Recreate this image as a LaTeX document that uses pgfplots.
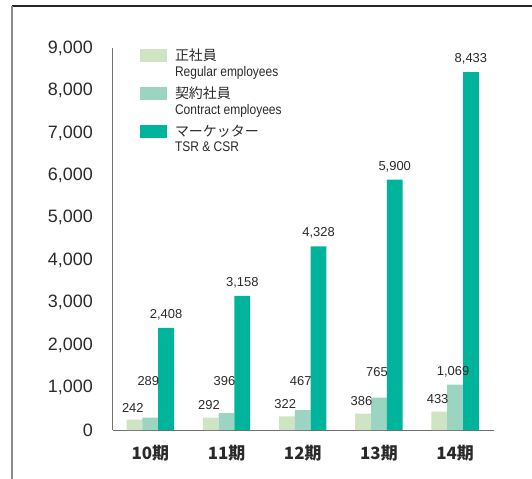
\documentclass[border=0pt]{standalone}
\usepackage{fontspec}
\setmainfont{Liberation Sans}
\newfontfamily\cjk{Noto Sans CJK JP}
\newfontfamily\cond[FakeStretch=0.86]{Liberation Sans}
\usepackage{pgfplots}
\pgfplotsset{compat=1.18}
\definecolor{cA}{HTML}{CEE5C4}
\definecolor{cB}{HTML}{9BD4C0}
\definecolor{cC}{HTML}{00B39B}
\definecolor{axg}{HTML}{707070}
\definecolor{txt}{HTML}{2A2A2A}
\newcommand{\lent}[2]{\rlap{\raisebox{-15.8bp}[0pt][0pt]{\cond #2}}{\cjk #1}}
\begin{document}
\begin{tikzpicture}
\useasboundingbox (-113bp,-49bp) rectangle (419bp,430bp);
\draw[line width=1.2bp, black!85] (-101bp,424bp) -- (419bp,424bp);
\draw[line width=2bp, black!45] (-101bp,424bp) -- (-101bp,-49bp);
\begin{axis}[
  at={(0,0)}, anchor=south west,
  scale only axis, width=381bp, height=382bp,
  xmin=-0.49, xmax=4.51, ymin=0, ymax=9000,
  axis lines=left, axis line style={-, draw=axg, line width=1bp},
  xtick={0,1,2,3,4},
  xticklabels={10期,11期,12期,13期,14期},
  ytick={0,1000,...,9000},
  major tick length=0pt,
  scaled y ticks=false,
  /pgf/number format/assume math mode=true,
  /pgf/number format/1000 sep={,},
  yticklabel style={font=\fontsize{18}{20}\selectfont, text=txt, anchor=east, inner sep=0pt, xshift=-20bp},
  xticklabel style={font=\cjk\bfseries\fontsize{17}{19}\selectfont, text=txt, anchor=north, inner sep=0pt, yshift=-15bp},
  legend style={at={(0.0709,0.9974)}, anchor=north west, draw=none, fill=none,
    inner sep=0pt, outer sep=0pt, row sep=24.5bp, column sep=8bp,
    font=\fontsize{14}{15.5}\selectfont, text=txt,
    nodes={inner sep=0pt, outer sep=0pt}, cells={anchor=base west}},
  nodes near coords style={font=\fontsize{13}{15}\selectfont, text=txt, anchor=south, inner sep=0pt, yshift=7.5bp},
]
\addplot[ybar, bar width=15.8bp, bar shift=-15.8bp, fill=cA, draw=none,
  nodes near coords, nodes near coords style={xshift=-17.5bp},
  legend image code/.code={\fill[cA] (0bp,-1.7bp) rectangle (27bp,11.3bp);}]
  coordinates {(0,242) (1,292) (2,322) (3,386) (4,433)};
\addlegendentry{\lent{正社員}{Regular employees}}
\addplot[ybar, bar width=15.8bp, bar shift=0bp, fill=cB, draw=none,
  legend image code/.code={\fill[cB] (0bp,-1.7bp) rectangle (27bp,11.3bp);}]
  coordinates {(0,289) (1,396) (2,467) (3,765) (4,1069)};
\addlegendentry{\lent{契約社員}{Contract employees}}
\addplot[ybar, bar width=15.8bp, bar shift=15.8bp, fill=cC, draw=none,
  nodes near coords, nodes near coords style={xshift=15.8bp},
  legend image code/.code={\fill[cC] (0bp,-1.7bp) rectangle (27bp,11.3bp);}]
  coordinates {(0,2408) (1,3158) (2,4328) (3,5900) (4,8433)};
\addlegendentry{\lent{マーケッター}{TSR \& CSR}}
\addplot[forget plot, draw=none, mark=none, nodes near coords, point meta=explicit symbolic,
  nodes near coords style={anchor=center, yshift=-7.5bp, xshift=-2bp}]
  coordinates {(0,1154)[289] (1,1154)[396] (2,1154)[467] (3,1366)[765] (4,1366)[{1,069}]};
\end{axis}
\end{tikzpicture}
\end{document}
